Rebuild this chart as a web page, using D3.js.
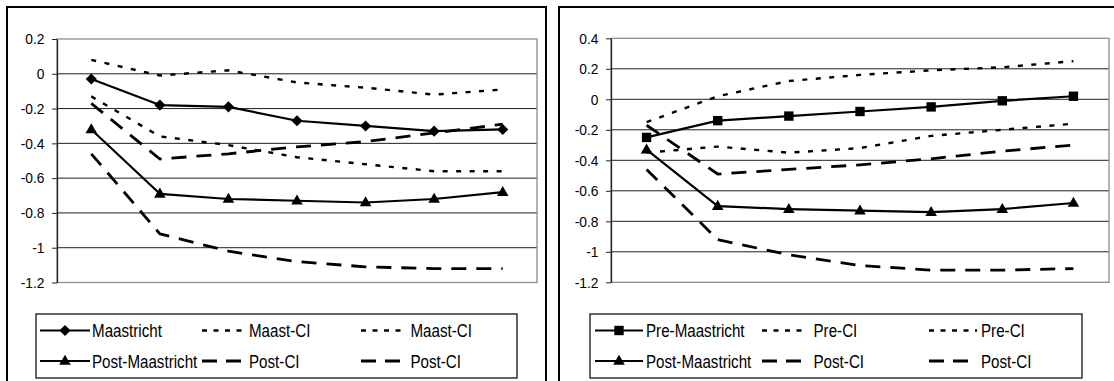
<!DOCTYPE html>
<html>
<head>
<meta charset="utf-8">
<script src="https://cdn.jsdelivr.net/npm/d3@7"></script>
<style>
  html, body { margin: 0; padding: 0; background: #fff; }
  svg { display: block; font-family: "Liberation Sans", Arial, sans-serif; }
</style>
</head>
<body>
<svg id="chart" width="1114" height="381"></svg>
<script>
// seven unlabeled periods on the category axis
const categories = [1, 2, 3, 4, 5, 6, 7];

// left panel
const maastricht     = [-0.03, -0.18, -0.19, -0.27, -0.30, -0.33, -0.32];
const maastCiUpper   = [0.08, -0.01, 0.02, -0.05, -0.08, -0.12, -0.09];
const maastCiLower   = [-0.13, -0.36, -0.41, -0.48, -0.52, -0.56, -0.56];
const postMaastL     = [-0.32, -0.69, -0.72, -0.73, -0.74, -0.72, -0.68];
const postCiUpperL   = [-0.17, -0.49, -0.46, -0.42, -0.39, -0.34, -0.29];
const postCiLowerL   = [-0.46, -0.92, -1.02, -1.08, -1.11, -1.12, -1.12];
const leftTicks      = [0.2, 0, -0.2, -0.4, -0.6, -0.8, -1, -1.2];

// right panel
const preMaastricht  = [-0.25, -0.14, -0.11, -0.08, -0.05, -0.01, 0.02];
const preCiUpper     = [-0.15, 0.02, 0.12, 0.16, 0.19, 0.21, 0.25];
const preCiLower     = [-0.35, -0.31, -0.35, -0.32, -0.24, -0.20, -0.16];
const postMaastR     = [-0.33, -0.70, -0.72, -0.73, -0.74, -0.72, -0.68];
const postCiUpperR   = [-0.17, -0.49, -0.46, -0.43, -0.39, -0.34, -0.30];
const postCiLowerR   = [-0.46, -0.92, -1.02, -1.09, -1.12, -1.12, -1.11];
const rightTicks     = [0.4, 0.2, 0, -0.2, -0.4, -0.6, -0.8, -1, -1.2];

const svg = d3.select('#chart');

// line styles
const styles = {
  solid:  { width: 2.2, dash: null,     legendDash: null },
  dotted: { width: 2.4, dash: '5,8.5',  legendDash: '5,6.5' },
  dashed: { width: 2.8, dash: '15,10',  legendDash: '15,9' }
};

function markerPath(kind) {
  if (kind === 'diamond') return d3.symbol(d3.symbolSquare, 62)();
  if (kind === 'triangle') return d3.symbol(d3.symbolTriangle, 58)();
  if (kind === 'square') return d3.symbol(d3.symbolSquare, 88)();
  return null;
}

function drawMarker(g, kind, x, y) {
  const p = g.append('path')
    .attr('d', markerPath(kind))
    .attr('fill', '#000');
  if (kind === 'diamond') p.attr('transform', `translate(${x},${y}) rotate(45)`);
  else if (kind === 'triangle') p.attr('transform', `translate(${x},${y + 0.5})`);
  else p.attr('transform', `translate(${x},${y})`);
}

function drawPanel(cfg) {
  // outer frame
  svg.append('rect')
    .attr('x', cfg.frame[0]).attr('y', cfg.frame[1])
    .attr('width', cfg.frame[2]).attr('height', cfg.frame[3])
    .attr('fill', '#fff').attr('stroke', '#000').attr('stroke-width', 2);

  const x = d3.scaleBand().domain(categories).range([cfg.left, cfg.right]).padding(0);
  const y = d3.scaleLinear().domain(cfg.domain).range([cfg.bottom, cfg.top]);
  const cx = d => x(d) + x.bandwidth() / 2;

  const g = svg.append('g');

  // gridlines (inner ticks only)
  g.selectAll('.grid')
    .data(cfg.ticks.filter(t => t !== cfg.domain[0] && t !== cfg.domain[1]))
    .enter().append('line')
    .attr('x1', cfg.left).attr('x2', cfg.right)
    .attr('y1', d => y(d)).attr('y2', d => y(d))
    .attr('stroke', '#1e1e1e').attr('stroke-width', 1);

  // plot area border
  g.append('rect')
    .attr('x', cfg.left).attr('y', cfg.top)
    .attr('width', cfg.right - cfg.left).attr('height', cfg.bottom - cfg.top)
    .attr('fill', 'none').attr('stroke', '#8c8c8c').attr('stroke-width', 1.3);

  // y axis
  const axis = g.append('g')
    .attr('transform', `translate(${cfg.left},0)`)
    .call(d3.axisLeft(y).tickValues(cfg.ticks).tickSize(5).tickSizeOuter(0)
      .tickPadding(7).tickFormat(d => String(d)));
  axis.select('.domain').attr('stroke', '#222').attr('stroke-width', 1.3);
  axis.selectAll('.tick line').attr('stroke', '#222');
  axis.selectAll('.tick text')
    .attr('font-size', 15)
    .attr('font-family', '"Liberation Sans", Arial, sans-serif')
    .attr('fill', '#000')
    .attr('x', -12.5 / 0.92)
    .attr('transform', 'scale(0.92,1)');

  // series
  const line = d3.line().x((d, i) => cx(categories[i])).y(d => y(d));
  cfg.series.forEach(s => {
    const st = styles[s.style];
    g.append('path')
      .datum(s.values)
      .attr('d', line)
      .attr('fill', 'none')
      .attr('stroke', '#000')
      .attr('stroke-width', st.width)
      .attr('stroke-dasharray', st.dash)
      .attr('stroke-linejoin', 'round');
    if (s.marker) {
      s.values.forEach((v, i) => drawMarker(g, s.marker, cx(categories[i]), y(v)));
    }
  });

  // legend
  const lg = svg.append('g');
  lg.append('rect')
    .attr('x', cfg.legendBox[0]).attr('y', cfg.legendBox[1])
    .attr('width', cfg.legendBox[2]).attr('height', cfg.legendBox[3])
    .attr('fill', '#fff').attr('stroke', '#000').attr('stroke-width', 1.2);

  cfg.series.forEach(s => {
    const st = styles[s.style];
    const [x1, x2] = cfg.legendCols[s.col];
    const yy = cfg.legendRows[s.row];
    lg.append('line')
      .attr('x1', x1).attr('x2', x2).attr('y1', yy).attr('y2', yy)
      .attr('stroke', '#000').attr('stroke-width', st.width)
      .attr('stroke-dasharray', st.legendDash);
    if (s.marker) drawMarker(lg, s.marker, (x1 + x2) / 2, yy);
    lg.append('text')
      .attr('x', cfg.legendText[s.col] / 0.82)
      .attr('y', yy)
      .attr('dy', '0.36em')
      .attr('transform', 'scale(0.82,1)')
      .attr('font-size', 18.5)
      .attr('fill', '#000')
      .text(s.label);
  });
}

drawPanel({
  frame: [7, 7, 539, 420],
  left: 57, right: 537, top: 39, bottom: 282.5,
  domain: [-1.2, 0.2], ticks: leftTicks,
  legendBox: [36, 314, 481, 64],
  legendCols: [[40, 90], [202, 247], [361, 407]],
  legendText: [92, 249, 410.5],
  legendRows: [330.5, 361],
  series: [
    { label: 'Maast-CI', values: maastCiUpper, style: 'dotted', col: 1, row: 0 },
    { label: 'Maast-CI', values: maastCiLower, style: 'dotted', col: 2, row: 0 },
    { label: 'Post-CI', values: postCiUpperL, style: 'dashed', col: 1, row: 1 },
    { label: 'Post-CI', values: postCiLowerL, style: 'dashed', col: 2, row: 1 },
    { label: 'Maastricht', values: maastricht, style: 'solid', marker: 'diamond', col: 0, row: 0 },
    { label: 'Post-Maastricht', values: postMaastL, style: 'solid', marker: 'triangle', col: 0, row: 1 }
  ]
});

drawPanel({
  frame: [559, 7, 600, 420],
  left: 611, right: 1109, top: 38.3, bottom: 282.3,
  domain: [-1.2, 0.4], ticks: rightTicks,
  legendBox: [590, 314, 492, 64],
  legendCols: [[595, 643], [762, 808], [929, 977]],
  legendText: [646, 813.5, 981],
  legendRows: [330.5, 361],
  series: [
    { label: 'Pre-CI', values: preCiUpper, style: 'dotted', col: 1, row: 0 },
    { label: 'Pre-CI', values: preCiLower, style: 'dotted', col: 2, row: 0 },
    { label: 'Post-CI', values: postCiUpperR, style: 'dashed', col: 1, row: 1 },
    { label: 'Post-CI', values: postCiLowerR, style: 'dashed', col: 2, row: 1 },
    { label: 'Pre-Maastricht', values: preMaastricht, style: 'solid', marker: 'square', col: 0, row: 0 },
    { label: 'Post-Maastricht', values: postMaastR, style: 'solid', marker: 'triangle', col: 0, row: 1 }
  ]
});
</script>
</body>
</html>
